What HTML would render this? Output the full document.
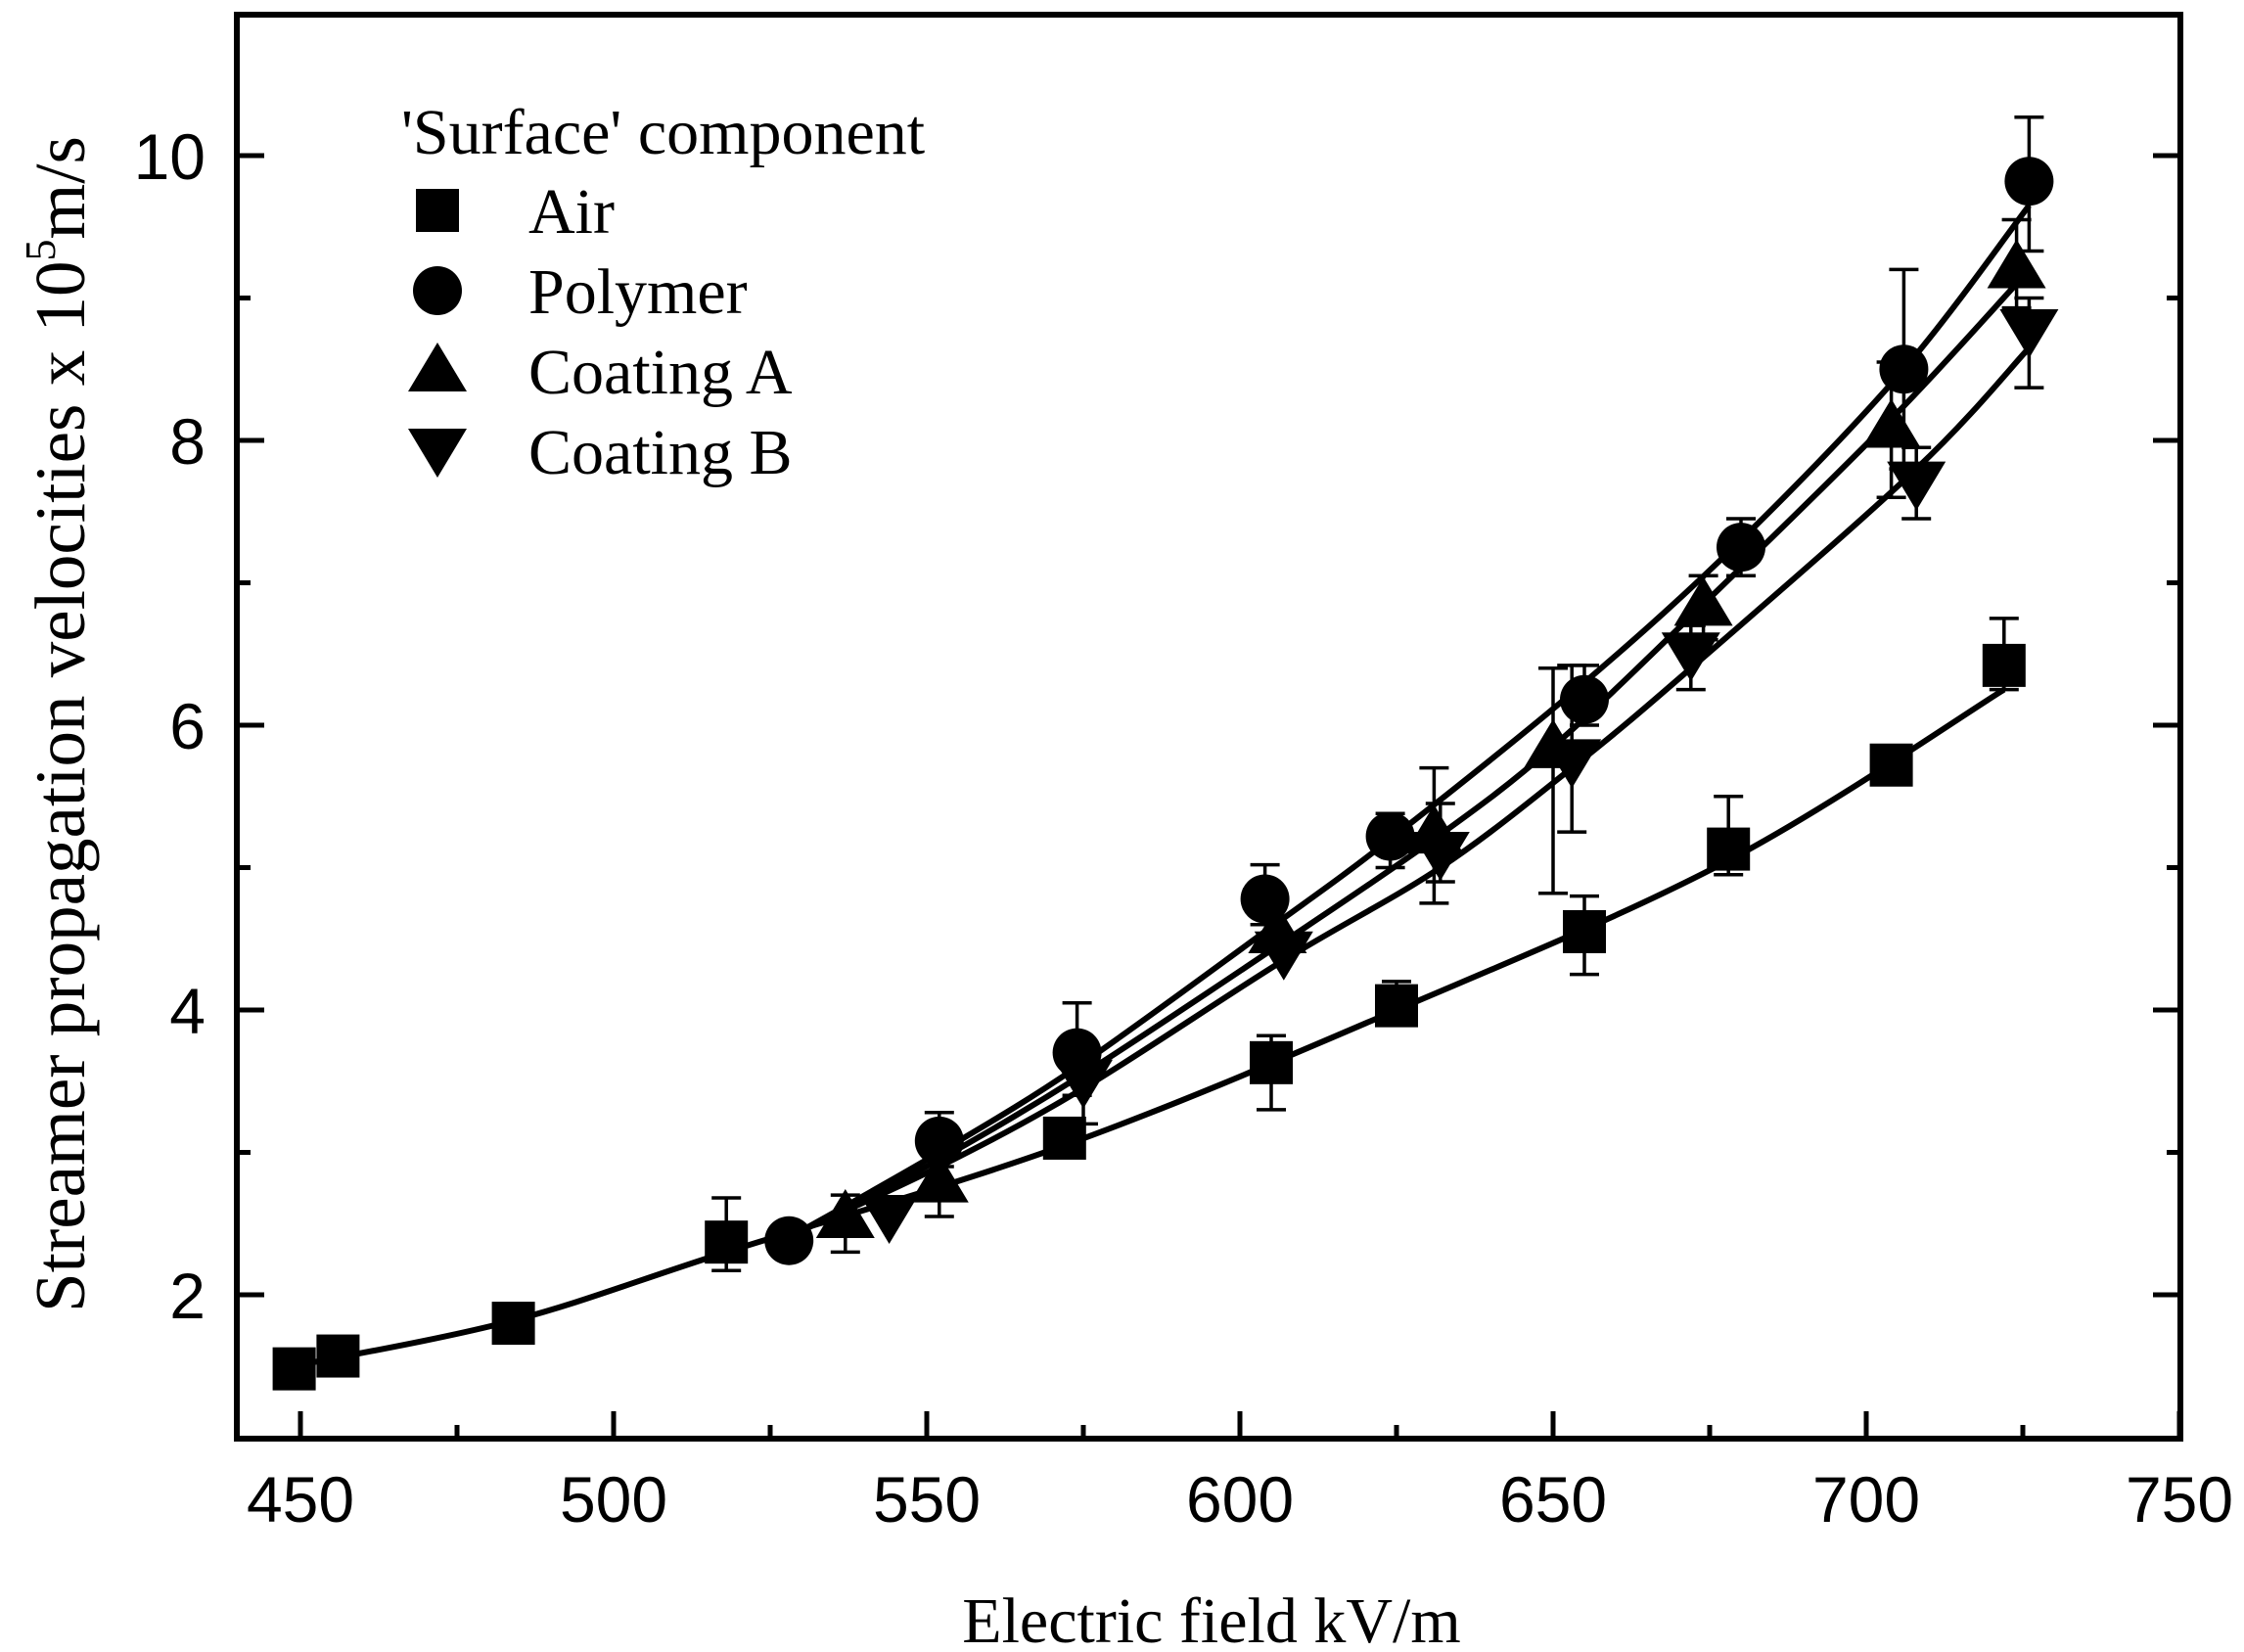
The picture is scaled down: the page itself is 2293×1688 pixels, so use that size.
<!DOCTYPE html>
<html><head><meta charset="utf-8"><style>
html,body{margin:0;padding:0;background:#fff}
svg{display:block}
.ar{font-family:"Liberation Sans",Arial,sans-serif;font-size:66px}
.tm{font-family:"Liberation Serif","Times New Roman",serif;font-size:66px}
</style></head><body>
<svg id="s" width="2293" height="1688" viewBox="0 0 2293 1688" xmlns="http://www.w3.org/2000/svg">
<g id="g"></g>
<text class="tm" transform="translate(86,740) rotate(-90)" text-anchor="middle" font-size="73" style="font-size:73px">Streamer propagation velocities x 10<tspan dy="-30" style="font-size:44px">5</tspan><tspan dy="30">m/s</tspan></text>
<text class="tm" x="1238" y="1678" text-anchor="middle">Electric field kV/m</text>
<text class="tm" x="410" y="157">'Surface' component</text>
<text class="tm" x="540" y="238">Air</text>
<text class="tm" x="540" y="320">Polymer</text>
<text class="tm" x="540" y="402">Coating A</text>
<text class="tm" x="540" y="484">Coating B</text>
</svg>
<script>
var NS="http://www.w3.org/2000/svg",g=document.getElementById('g');
function X(v){return 307+(v-450)*6.4}
function Y(v){return 159+(10-v)*145.5}
function el(t,a){var e=document.createElementNS(NS,t);for(var k in a)e.setAttribute(k,a[k]);g.appendChild(e);return e}
var L=242,R=2228,T=15,B=1470;
el('rect',{x:L,y:T,width:R-L,height:B-T,fill:'none',stroke:'#000','stroke-width':6});
for(var v=450;v<=750;v+=25){var mj=v%50==0,len=mj?28:14;
 el('line',{x1:X(v),y1:B,x2:X(v),y2:B-len,stroke:'#000','stroke-width':5});
 if(mj){var t=el('text',{x:X(v),y:1555,'text-anchor':'middle','class':'ar'});t.textContent=v;}}
for(var v=2;v<=10;v+=1){var mj=v%2==0,len=mj?28:14;
 el('line',{x1:L,y1:Y(v),x2:L+len,y2:Y(v),stroke:'#000','stroke-width':5});
 el('line',{x1:R,y1:Y(v),x2:R-len,y2:Y(v),stroke:'#000','stroke-width':5});
 if(mj){var t=el('text',{x:210,y:Y(v)+24,'text-anchor':'end','class':'ar'});t.textContent=v;}}
function curve(pts){var p=pts.map(function(a){return[X(a[0]),Y(a[1])]});var d='M'+p[0][0]+' '+p[0][1];
 for(var i=0;i<p.length-1;i++){var p0=p[i-1]||p[i],p1=p[i],p2=p[i+1],p3=p[i+2]||p2;
 d+=' C'+(p1[0]+(p2[0]-p0[0])/6)+' '+(p1[1]+(p2[1]-p0[1])/6)+' '+(p2[0]-(p3[0]-p1[0])/6)+' '+(p2[1]-(p3[1]-p1[1])/6)+' '+p2[0]+' '+p2[1];}
 el('path',{d:d,fill:'none',stroke:'#000','stroke-width':6});}
curve([[449,1.5],[484,1.82],[518,2.3],[572,3.05],[625,4.0],[678,5.05],[722,6.25]]);
curve([[528,2.4],[552,3.0],[574,3.6],[604,4.55],[624,5.2],[655,6.3],[680,7.3],[706,8.5],[726,9.65]]);
curve([[530,2.45],[552,2.95],[575,3.55],[606,4.45],[631,5.2],[650,5.85],[674,6.85],[704,8.15],[724,9.1]]);
curve([[530,2.45],[552,2.9],[575,3.45],[607,4.35],[632,5.0],[653,5.7],[672,6.4],[708,7.8],[726,8.65]]);
function eb(x,lo,hi){el('line',{x1:X(x),y1:Y(lo),x2:X(x),y2:Y(hi),stroke:'#000','stroke-width':3.5});
 [lo,hi].forEach(function(v){el('line',{x1:X(x)-15,y1:Y(v),x2:X(x)+15,y2:Y(v),stroke:'#000','stroke-width':3.5})});}
function sq(x,y){el('rect',{x:x-22,y:y-22,width:44,height:44,fill:'#000'})}
function ci(x,y){el('circle',{cx:x,cy:y,r:25,fill:'#000'})}
function tu(x,y){el('polygon',{points:(x-30)+','+(y+22)+' '+(x+30)+','+(y+22)+' '+x+','+(y-28),fill:'#000'})}
function td(x,y){el('polygon',{points:(x-30)+','+(y-22)+' '+(x+30)+','+(y-22)+' '+x+','+(y+28),fill:'#000'})}
var air=[[449,1.48],[456,1.57],[484,1.8],[518,2.37,2.17,2.68],[572,3.1],[605,3.63,3.3,3.82],[625,4.03,3.95,4.2],[655,4.55,4.25,4.8],[678,5.13,4.95,5.5],[704,5.72],[722,6.42,6.25,6.75]];
var pol=[[528,2.38],[552,3.08,2.9,3.28],[574,3.7,3.4,4.05],[604,4.78,4.6,5.02],[624,5.22,5.0,5.38],[655,6.18,6.0,6.42],[680,7.25,7.05,7.45],[706,8.5,7.8,9.2],[726,9.82,9.33,10.27]];
var ca=[[537,2.55,2.3,2.7],[552,2.8,2.55,2.95],[606,4.55],[631,5.25,4.75,5.7],[650,5.85,4.82,6.4],[674,6.85,6.6,7.05],[704,8.1,7.6,8.55],[724,9.22,8.93,9.55]];
var cb=[[544,2.55],[575,3.5,3.2,3.7],[607,4.4],[632,5.1,4.9,5.45],[653,5.75,5.25,6.42],[672,6.5,6.25,6.7],[708,7.7,7.45,7.95],[726,8.77,8.37,9.0]];
[air,pol,ca,cb].forEach(function(s){s.forEach(function(p){if(p.length>2)eb(p[0],p[2],p[3])})});
air.forEach(function(p){sq(X(p[0]),Y(p[1]))});
pol.forEach(function(p){ci(X(p[0]),Y(p[1]))});
ca.forEach(function(p){tu(X(p[0]),Y(p[1]))});
cb.forEach(function(p){td(X(p[0]),Y(p[1]))});
sq(447,215);ci(447,297);tu(447,378);td(447,460);
</script>
</body></html>
